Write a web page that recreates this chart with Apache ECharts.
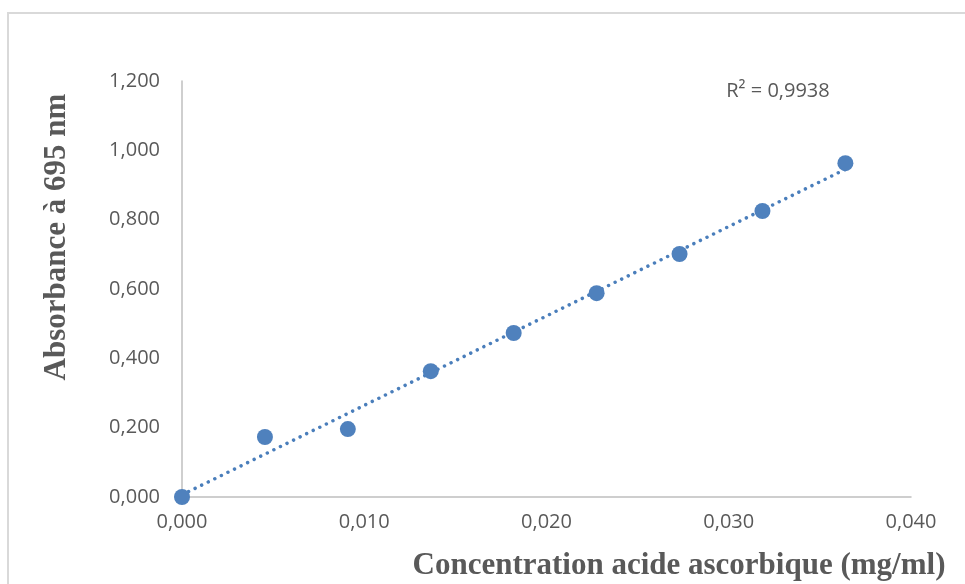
<!DOCTYPE html>
<html>
<head>
<meta charset="utf-8">
<script src="https://cdn.jsdelivr.net/npm/echarts@6/dist/echarts.min.js"></script>
<style>
html,body{margin:0;padding:0;background:#fff;}
#c{width:965px;height:584px;}
</style>
</head>
<body>
<div id="c"></div>
<script>
// Data
const concentrations = [0, 0.00455, 0.0091, 0.01365, 0.0182, 0.02275, 0.0273, 0.03185, 0.0364];
const absorbances = [0.000, 0.173, 0.196, 0.363, 0.473, 0.588, 0.701, 0.825, 0.963];
const xTitle = 'Concentration acide ascorbique (mg/ml)';
const yTitle = 'Absorbance à 695 nm';
const r2Label = 'R² = 0,9938';

// Linear regression (trendline)
const n = concentrations.length;
const mx = concentrations.reduce((a, b) => a + b, 0) / n;
const my = absorbances.reduce((a, b) => a + b, 0) / n;
let sxy = 0, sxx = 0;
for (let i = 0; i < n; i++) {
  sxy += (concentrations[i] - mx) * (absorbances[i] - my);
  sxx += (concentrations[i] - mx) ** 2;
}
const slope = sxy / sxx;
const intercept = my - slope * mx;
const xMin = Math.min(...concentrations), xMax = Math.max(...concentrations);
const trend = [[xMin, intercept + slope * xMin], [xMax, intercept + slope * xMax]];

const fmt = (d) => (v) => v.toFixed(d).replace('.', ',');
const labelFont = 'Open Sans, Noto Sans, sans-serif';
const titleFont = 'Liberation Serif, Times New Roman, serif';

const chart = echarts.init(document.getElementById('c'), null, {renderer: 'canvas'});
chart.setOption({
  animation: false,
  backgroundColor: '#ffffff',
  grid: {left: 182, right: 54, top: 81, bottom: 87, containLabel: false},
  xAxis: {
    type: 'value', min: 0, max: 0.04, interval: 0.01,
    axisLine: {show: true, lineStyle: {color: '#bfbfbf', width: 1.5}},
    axisTick: {show: false},
    splitLine: {show: false},
    axisLabel: {formatter: fmt(3), color: '#595959', fontSize: 20, fontFamily: labelFont, margin: 15}
  },
  yAxis: {
    type: 'value', min: 0, max: 1.2, interval: 0.2,
    axisLine: {show: true, lineStyle: {color: '#bfbfbf', width: 1.5}},
    axisTick: {show: false},
    splitLine: {show: false},
    axisLabel: {formatter: fmt(3), color: '#595959', fontSize: 20, fontFamily: labelFont, margin: 22}
  },
  graphic: [
    {type: 'rect', shape: {x: 8, y: 13, width: 1200, height: 1200}, style: {fill: 'none', stroke: '#d9d9d9', lineWidth: 2}, z: -1},
    {type: 'text', x: 679, y: 566, style: {text: xTitle, font: 'bold 31px ' + titleFont, fill: '#595959', align: 'center', verticalAlign: 'middle'}},
    {type: 'text', x: 57, y: 237, rotation: Math.PI / 2, style: {text: yTitle, font: 'bold 31px ' + titleFont, fill: '#595959', align: 'center', verticalAlign: 'middle'}},
    {type: 'text', x: 778, y: 91, style: {text: r2Label, font: '20px ' + labelFont, fill: '#595959', align: 'center', verticalAlign: 'middle'}}
  ],
  series: [
    {
      type: 'line', data: trend, showSymbol: false, symbol: 'none',
      lineStyle: {color: '#4a7ebb', width: 3.5, type: [0.01, 7.3], cap: 'round'},
      z: 2, silent: true
    },
    {
      type: 'scatter', data: concentrations.map((x, i) => [x, absorbances[i]]),
      symbol: 'circle', symbolSize: 16,
      itemStyle: {color: '#4f81bd', opacity: 1}, z: 3
    }
  ]
});
</script>
</body>
</html>
